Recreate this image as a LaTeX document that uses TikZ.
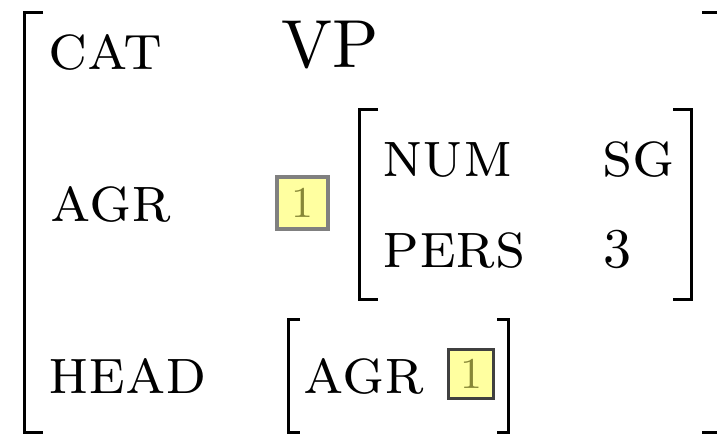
\documentclass[tikz,border=0pt]{standalone}
\usepackage{fontspec}
% 10pt design size of Latin Modern, scaled up
\newfontfamily\lmten{lmroman10-regular.otf}
\newfontfamily\lmcaps{lmromancaps10-regular.otf}
\definecolor{tagfill}{RGB}{255,255,160}
\definecolor{tagtext}{RGB}{135,135,55}
\definecolor{tagline}{RGB}{128,128,128}
\begin{document}
\begin{tikzpicture}[x=1pt,y=-1pt,
  feat/.style={anchor=base west,inner sep=0pt,font=\lmcaps\fontsize{66}{70}\selectfont},
  val/.style={anchor=base west,inner sep=0pt,font=\lmten\fontsize{56}{60}\selectfont},
  bigval/.style={anchor=base west,inner sep=0pt,font=\lmten\fontsize{68}{70}\selectfont},
  tagbox/.style={draw=tagline,fill=tagfill,line width=3.5pt,inner sep=0pt,
    text=tagtext,font=\lmten\fontsize{44}{44}\selectfont},
  brk/.style={line width=3pt}]
\useasboundingbox (0,0) rectangle (717,435);

% outer matrix: the right bracket's stem lies past the edge, only its serifs show
\draw[brk] (43,13) -| (24,432) -- (43,432);
\draw[brk] (702,13) -- (717,13);
\draw[brk] (702,432) -- (717,432);

% CAT row
\node[feat] (cat) at (48,70) {cat};
\node[bigval] (vp) at (281,68) {VP};

% AGR row
\node[feat] (agr) at (50,222) {agr};
\node[tagbox,minimum width=51pt,minimum height=52pt] (tagA) at (302.5,203) {1};
\draw[brk] (378,110) -| (359.5,300) -- (378,300);
\draw[brk] (673,110) -| (691.5,300) -- (673,300);
\node[feat] (num) at (382,177) {num};
\node[feat] (sg) at (602,177) {sg};
\node[feat] (pers) at (382,268) {pers};
\node[val] (three) at (603,268) {3};

% HEAD row
\node[feat] (head) at (48,393) {head};
\draw[brk] (300,320) -| (288,432) -- (300,432);
\draw[brk] (497,320) -| (508.5,432) -- (497,432);
\node[feat] (hagr) at (303,393) {agr};
\node[tagbox,draw=black!75,line width=3pt,minimum width=45pt,minimum height=49pt] (tagB) at (471,374) {1};
\end{tikzpicture}
\end{document}
